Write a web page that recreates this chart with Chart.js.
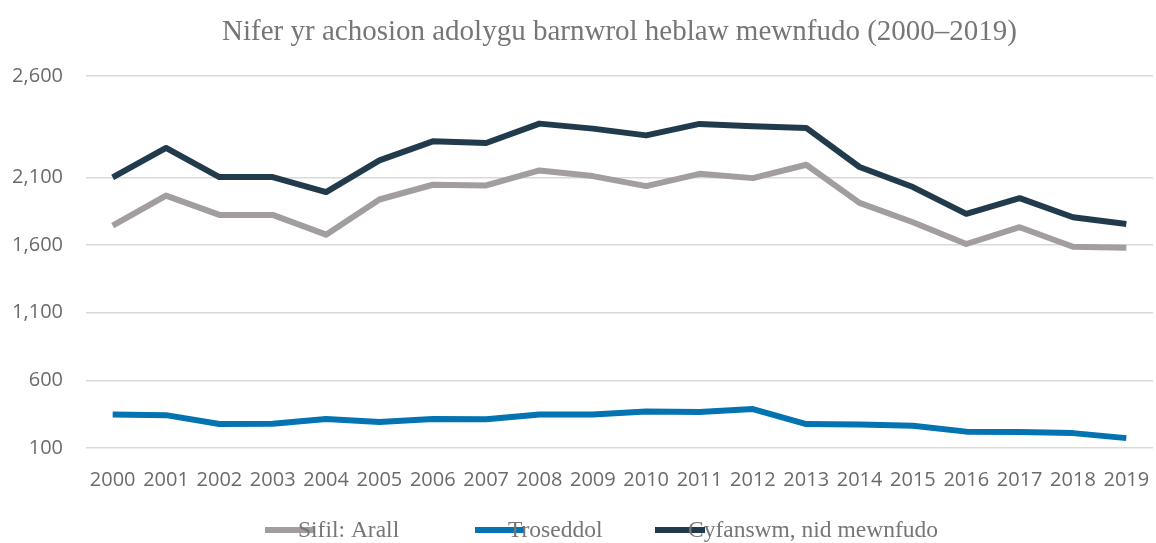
<!DOCTYPE html>
<html>
<head>
<meta charset="utf-8">
<script src="https://cdn.jsdelivr.net/npm/chart.js@4/dist/chart.umd.min.js"></script>
<style>
  html, body { margin: 0; padding: 0; background: #fff; }
  #wrap { width: 1156px; height: 543px; position: relative; }
</style>
</head>
<body>
<div id="wrap"><canvas id="reviewChart"></canvas></div>
<script>
// years on the x axis
var years = ['2000', '2001', '2002', '2003', '2004', '2005', '2006', '2007', '2008', '2009',
  '2010', '2011', '2012', '2013', '2014', '2015', '2016', '2017', '2018', '2019'];

// series
var sifilArall = [1744, 1966, 1823, 1823, 1677, 1937, 2046, 2041, 2152, 2110,
  2036, 2127, 2095, 2194, 1912, 1769, 1608, 1732, 1588, 1581];
var troseddol = [347, 343, 278, 280, 314, 293, 314, 312, 347, 347,
  369, 366, 388, 277, 273, 265, 221, 219, 210, 173];
var cyfanswm = [2100, 2318, 2103, 2103, 1992, 2226, 2367, 2355, 2498, 2461,
  2411, 2496, 2478, 2466, 2177, 2029, 1831, 1947, 1806, 1756];

// y axis gridlines and their labels
var yTickValues = [100, 600, 1100, 1600, 2100, 2850];
var yTickLabels = ['100', '600', '1,100', '1,600', '2,100', '2,600'];

var titleText = 'Nifer yr achosion adolygu barnwrol heblaw mewnfudo (2000\u20132019)';

// title + legend drawn by hand (legend line runs under the text start)
var extras = {
  id: 'extras',
  afterDraw: function (chart) {
    var c = chart.ctx;
    var area = chart.chartArea;
    c.save();
    c.fillStyle = '#767676';
    c.font = '29px "Liberation Serif"';
    c.textAlign = 'center';
    c.textBaseline = 'middle';
    c.fillText(titleText, (area.left + area.right) / 2, 32);

    var xs = [265, 475, 655];
    var y = 530;
    chart.data.datasets.forEach(function (ds, i) {
      c.strokeStyle = ds.borderColor;
      c.lineWidth = 6;
      c.beginPath();
      c.moveTo(xs[i], y);
      c.lineTo(xs[i] + 50, y);
      c.stroke();
      c.fillStyle = '#767676';
      c.font = '23.5px "Liberation Serif"';
      c.textAlign = 'left';
      c.fillText(ds.label, xs[i] + 33, y + 1);
    });
    c.restore();
  }
};

var ctx = document.getElementById('reviewChart').getContext('2d');
var chart = new Chart(ctx, {
  type: 'line',
  data: {
    labels: years,
    datasets: [
      {
        label: 'Sifil: Arall',
        data: sifilArall,
        borderColor: '#A29E9F',
        backgroundColor: '#A29E9F',
        borderWidth: 6,
        pointRadius: 0,
        tension: 0,
        borderJoinStyle: 'round'
      },
      {
        label: 'Troseddol',
        data: troseddol,
        borderColor: '#0373B1',
        backgroundColor: '#0373B1',
        borderWidth: 6,
        pointRadius: 0,
        tension: 0,
        borderJoinStyle: 'round'
      },
      {
        label: 'Cyfanswm, nid mewnfudo',
        data: cyfanswm,
        borderColor: '#213B4D',
        backgroundColor: '#213B4D',
        borderWidth: 6,
        pointRadius: 0,
        tension: 0,
        borderJoinStyle: 'round'
      }
    ]
  },
  options: {
    responsive: true,
    maintainAspectRatio: false,
    animation: false,
    layout: { padding: { top: 76, right: 3, left: 0, bottom: 0 } },
    plugins: {
      legend: { display: false },
      title: { display: false },
      tooltip: { enabled: false }
    },
    scales: {
      x: {
        offset: true,
        grid: { display: false, drawTicks: false },
        border: { display: false },
        ticks: {
          color: '#6b6b6b',
          font: { family: '"Open Sans"', size: 20 },
          padding: 20,
          maxRotation: 0,
          autoSkip: false
        },
        afterFit: function (scale) {
          scale.height = 95;
          scale.paddingLeft = 0;
          scale.paddingRight = 0;
        }
      },
      y: {
        min: 100,
        max: 2850,
        grid: { color: '#d9d9d9', lineWidth: 1.5, drawTicks: false },
        border: { display: false },
        afterBuildTicks: function (scale) {
          scale.ticks = yTickValues.map(function (v) { return { value: v }; });
        },
        ticks: {
          color: '#6b6b6b',
          font: { family: '"Open Sans"', size: 20 },
          padding: 23,
          callback: function (v, i) { return yTickLabels[i]; }
        },
        afterFit: function (scale) { scale.width = 86; }
      }
    }
  },
  plugins: [extras]
});
</script>
</body>
</html>
